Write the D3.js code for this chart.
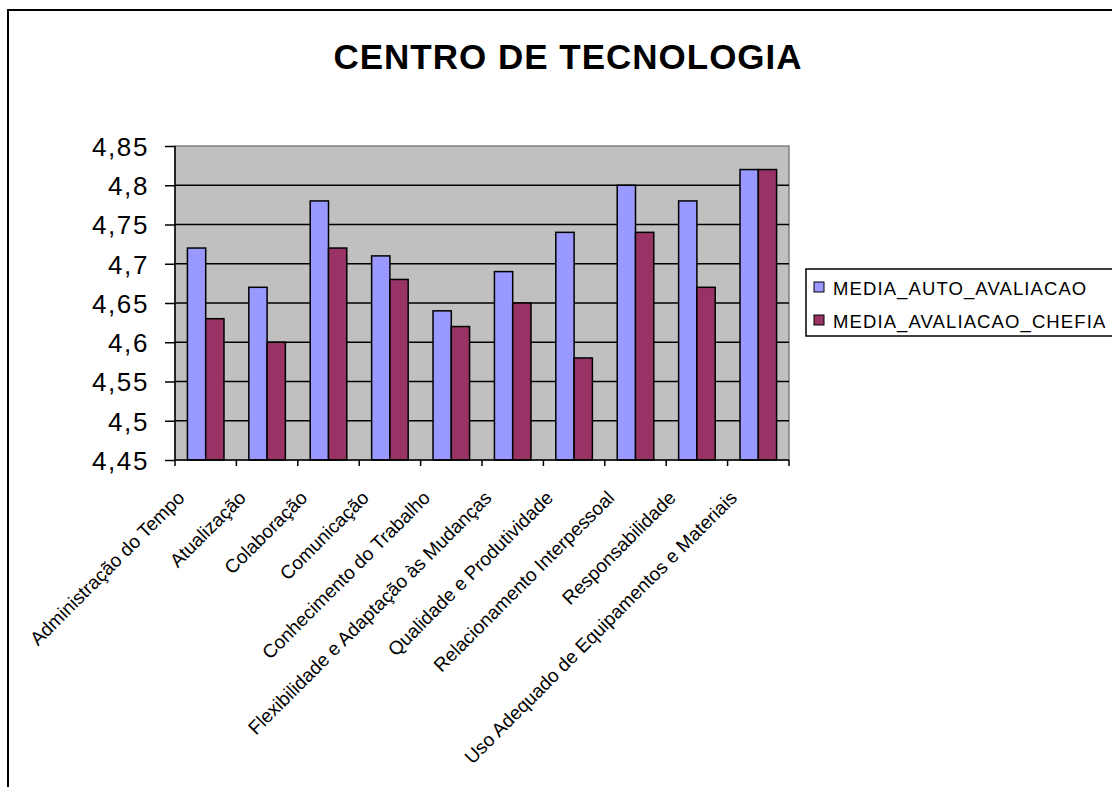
<!DOCTYPE html>
<html>
<head>
<meta charset="utf-8">
<script src="https://cdn.jsdelivr.net/npm/d3@7"></script>
<style>
  body { margin: 0; background: #fff; }
  svg { display: block; font-family: "Liberation Sans", Arial, sans-serif; }
  .ylab text { font-size: 26px; letter-spacing: 1.6px; fill: #000; }
  .xlab text { font-size: 19px; fill: #000; }
</style>
</head>
<body>
<div id="chart"></div>
<script>
// ------------------------------------------
//  Data
// ------------------------------------------
const title = "CENTRO DE TECNOLOGIA"
const categories = [
    "Administração do Tempo", "Atualização", "Colaboração", "Comunicação",
    "Conhecimento do Trabalho", "Flexibilidade e Adaptação às Mudanças",
    "Qualidade e Produtividade", "Relacionamento Interpessoal",
    "Responsabilidade", "Uso Adequado de Equipamentos e Materiais"
]
const seriesNames = ["MEDIA_AUTO_AVALIACAO", "MEDIA_AVALIACAO_CHEFIA"]
const autoAvaliacao = [4.72, 4.67, 4.78, 4.71, 4.64, 4.69, 4.74, 4.80, 4.78, 4.82]
const avaliacaoChefia = [4.63, 4.60, 4.72, 4.68, 4.62, 4.65, 4.58, 4.74, 4.67, 4.82]
const yTicks = [4.45, 4.5, 4.55, 4.6, 4.65, 4.7, 4.75, 4.8, 4.85]
const colors = ["#9999FF", "#993366"]

// ------------------------------------------
//  Chart
// ------------------------------------------
function drawChart() {
    const W = 1112, H = 787
    const plot = { left: 175, top: 146, right: 789, bottom: 460 }

    const svg = d3.select("#chart").append("svg").attr("width", W).attr("height", H)

    // outer chart border (runs off the right and bottom edges)
    svg.append("rect")
        .attr("x", 8).attr("y", 10)
        .attr("width", W + 20).attr("height", H + 20)
        .attr("fill", "#fff").attr("stroke", "#000").attr("stroke-width", 2)

    svg.append("text")
        .attr("x", 568).attr("y", 69)
        .attr("text-anchor", "middle")
        .style("font-size", "35px").style("font-weight", "bold").style("letter-spacing", "1px")
        .text(title)

    const x = d3.scaleBand().domain(categories).range([plot.left, plot.right])
    const xs = d3.scaleBand().domain(seriesNames).range([0, x.bandwidth()])
        .paddingInner(0).paddingOuter(0.68)
    const y = d3.scaleLinear().domain([4.45, 4.85]).range([plot.bottom, plot.top])

    svg.append("rect")
        .attr("x", plot.left).attr("y", plot.top)
        .attr("width", plot.right - plot.left).attr("height", plot.bottom - plot.top)
        .attr("fill", "#C0C0C0").attr("stroke", "#808080").attr("stroke-width", 1.5)

    // gridlines
    svg.append("g").selectAll("line")
        .data(yTicks.slice(1, -1))
        .join("line")
        .attr("x1", plot.left).attr("x2", plot.right)
        .attr("y1", d => y(d)).attr("y2", d => y(d))
        .attr("stroke", "#000").attr("stroke-width", 1.5)

    // bars
    const series = [autoAvaliacao, avaliacaoChefia]
    const bars = categories.flatMap((c, i) => series.map((s, j) => ({ c, name: seriesNames[j], v: s[i], j })))
    svg.append("g").selectAll("rect")
        .data(bars)
        .join("rect")
        .attr("x", d => x(d.c) + xs(d.name))
        .attr("width", xs.bandwidth())
        .attr("y", d => y(d.v))
        .attr("height", d => y(4.45) - y(d.v))
        .attr("fill", d => colors[d.j])
        .attr("stroke", "#000").attr("stroke-width", 1.5)

    // y axis
    const yAxis = svg.append("g").attr("class", "ylab")
        .attr("transform", `translate(${plot.left},0)`)
        .call(d3.axisLeft(y).tickValues(yTicks).tickSize(10).tickPadding(16)
            .tickFormat(d => String(d).replace(".", ",")))
    yAxis.selectAll("line, path").attr("stroke", "#000").attr("stroke-width", 1.5)
    yAxis.select("path").attr("d", `M0,${plot.bottom}V${plot.top}`)
    yAxis.selectAll("text").attr("dy", "0.36em")

    // x axis
    const xAxis = svg.append("g").attr("class", "xlab")
        .attr("transform", `translate(0,${plot.bottom})`)
    xAxis.append("line")
        .attr("x1", plot.left).attr("x2", plot.right)
        .attr("stroke", "#000").attr("stroke-width", 1.5)
    xAxis.selectAll(".tick")
        .data(d3.range(categories.length + 1))
        .join("line")
        .attr("class", "tick")
        .attr("x1", i => plot.left + i * x.step()).attr("x2", i => plot.left + i * x.step())
        .attr("y1", 0).attr("y2", 6)
        .attr("stroke", "#000").attr("stroke-width", 1.5)
    xAxis.selectAll("text")
        .data(categories)
        .join("text")
        .attr("text-anchor", "end")
        .attr("transform", d => `translate(${x(d) + x.bandwidth() / 2 - 20},${39}) rotate(-45)`)
        .text(d => d)

    // legend
    const lg = svg.append("g").attr("transform", "translate(806,269)")
    lg.append("rect")
        .attr("width", 320).attr("height", 67)
        .attr("fill", "#fff").attr("stroke", "#000").attr("stroke-width", 1.5)
    const item = lg.selectAll(".item")
        .data(seriesNames)
        .join("g")
        .attr("class", "item")
        .attr("transform", (d, i) => `translate(0,${i * 33})`)
    item.append("rect")
        .attr("x", 8).attr("y", 13)
        .attr("width", 10).attr("height", 10)
        .attr("fill", (d, i) => colors[i]).attr("stroke", "#000").attr("stroke-width", 1)
    item.append("text")
        .attr("x", 27).attr("y", 26)
        .style("font-size", "18.5px").style("letter-spacing", "1.1px")
        .text(d => d)
}

drawChart()
</script>
</body>
</html>
